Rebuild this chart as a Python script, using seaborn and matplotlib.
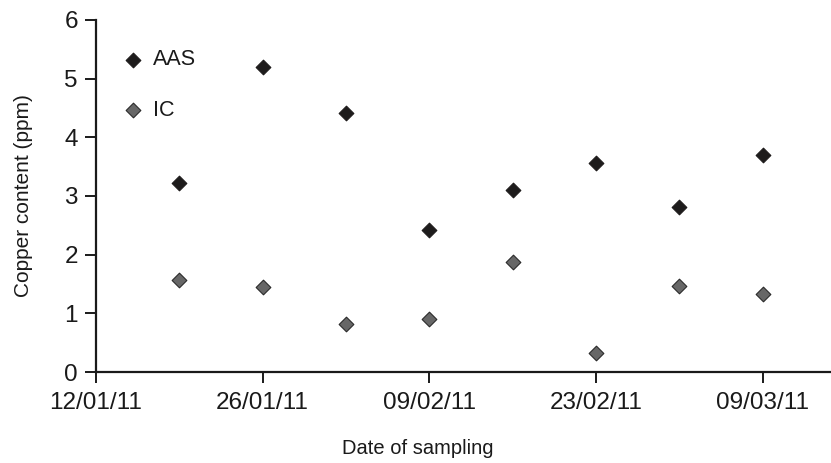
import matplotlib
matplotlib.use("Agg")
import matplotlib.pyplot as plt
import matplotlib.dates as mdates
import pandas as pd
import seaborn as sns
from matplotlib import font_manager

dates = ["2011-01-19", "2011-01-26", "2011-02-02", "2011-02-09",
         "2011-02-16", "2011-02-23", "2011-03-02", "2011-03-09"]
aas = [3.22, 5.19, 4.42, 2.42, 3.10, 3.56, 2.82, 3.69]
ic = [1.57, 1.45, 0.82, 0.90, 1.88, 0.32, 1.46, 1.33]
tick_dates = ["2011-01-12", "2011-01-26", "2011-02-09", "2011-02-23", "2011-03-09"]
yticks = [0, 1, 2, 3, 4, 5, 6]

sns.set_theme(style="white")
names = {f.name for f in font_manager.fontManager.ttflist}
fam = ["Liberation Sans Narrow"] if "Liberation Sans Narrow" in names else ["Liberation Sans"]
plt.rcParams["font.family"] = fam + ["DejaVu Sans"]

df = pd.DataFrame({
    "date": pd.to_datetime(dates * 2),
    "value": aas + ic,
    "method": ["AAS"] * len(aas) + ["IC"] * len(ic),
})

fig = plt.figure(figsize=(8.31, 4.63), dpi=100)
ax = fig.add_axes([0.1155, 0.1965, 0.8845, 0.7605])

palette = {"AAS": "#1e1c1c", "IC": "#676767"}
edges = {"AAS": "#1e1c1c", "IC": "#2a2a2a"}
for m in ["AAS", "IC"]:
    sub = df[df.method == m]
    sns.scatterplot(data=sub, x="date", y="value", marker="D", s=56,
                    color=palette[m], edgecolor=edges[m], linewidth=0.8,
                    ax=ax, label=m, zorder=3)

ax.set_ylim(0, 6)
ax.set_xlim(pd.Timestamp("2011-01-12"), pd.Timestamp("2011-03-14 17:30"))
ax.set_yticks(yticks)
ax.set_xticks(pd.to_datetime(tick_dates))
ax.xaxis.set_major_formatter(mdates.DateFormatter("%d/%m/%y"))

for s in ["top", "right"]:
    ax.spines[s].set_visible(False)
for s in ["left", "bottom"]:
    ax.spines[s].set_linewidth(1.6)
    ax.spines[s].set_color("#1a1a1a")

ax.tick_params(axis="both", which="major", direction="out", length=8,
               width=1.4, color="#1a1a1a", labelsize=17.5, labelcolor="#1a1a1a",
               bottom=True, left=True)
ax.tick_params(axis="x", pad=6.5)
ax.tick_params(axis="y", pad=5)

ax.set_xlabel("Date of sampling", fontsize=14.5, color="#1a1a1a")
ax.set_ylabel("Copper content (ppm)", fontsize=15, color="#1a1a1a")
ax.xaxis.set_label_coords(0.438, -0.19)
ax.yaxis.set_label_coords(-0.086, 0.5)

leg = ax.legend(loc="upper left", bbox_to_anchor=(0.007, 0.971), frameon=False,
                fontsize=15.5, handlelength=1.2, handletextpad=0.33,
                labelspacing=1.35, markerscale=1.0)
for t in leg.get_texts():
    t.set_color("#1a1a1a")

fig.savefig("out.png", dpi=100)
